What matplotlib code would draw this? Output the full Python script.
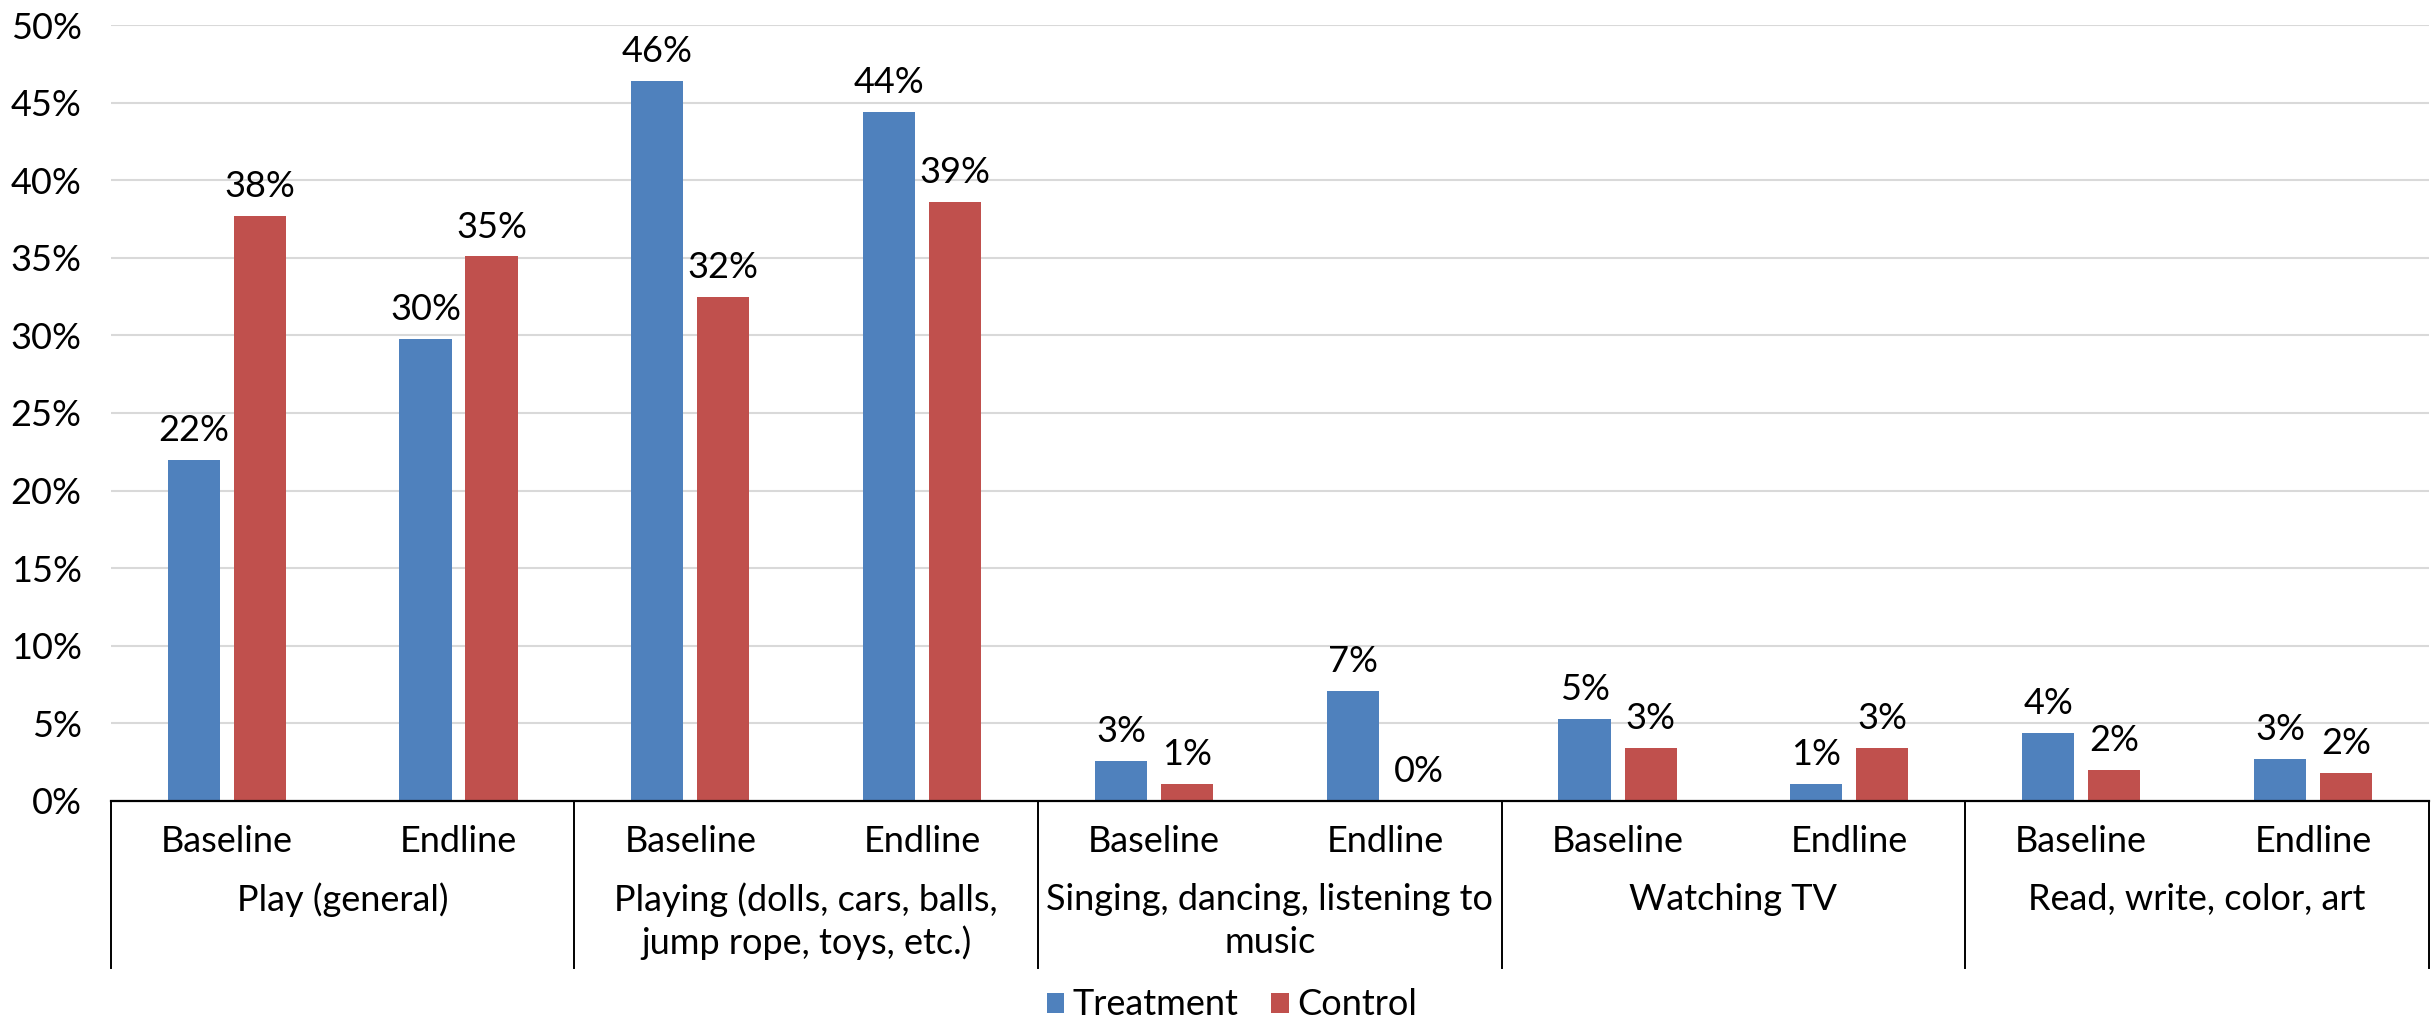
import matplotlib
matplotlib.use("Agg")
import matplotlib.pyplot as plt
from matplotlib.patches import Patch
from matplotlib.ticker import PercentFormatter

plt.rcParams['font.family'] = ['Lato', 'DejaVu Sans']

# Share of children by activity, survey round and study arm
categories = ["Play (general)",
              "Playing (dolls, cars, balls,\njump rope, toys, etc.)",
              "Singing, dancing, listening to\nmusic",
              "Watching TV",
              "Read, write, color, art"]
rounds = ["Baseline", "Endline"]
series_names = ["Treatment", "Control"]
treatment = [0.220, 0.298, 0.464, 0.444, 0.026, 0.071, 0.053, 0.011, 0.044, 0.027]
control = [0.377, 0.351, 0.325, 0.386, 0.011, 0.000, 0.034, 0.034, 0.020, 0.018]

BLUE = "#4F81BD"
RED = "#C0504D"
FS = 26

fig = plt.figure(figsize=(24.35, 10.21), dpi=100)
ax = fig.add_axes([0.0455, 0.2155, 0.952, 0.760])

n = len(treatment)
x = list(range(n))
width = 0.225
off = 0.1425

bars_t = ax.bar([i - off for i in x], treatment, width, color=BLUE, zorder=3)
bars_c = ax.bar([i + off for i in x], control, width, color=RED, zorder=3)

for bars, vals in ((bars_t, treatment), (bars_c, control)):
    for b, v in zip(bars, vals):
        ax.annotate(f"{v:.0%}", (b.get_x() + b.get_width() / 2, v),
                    xytext=(0, 13.5), textcoords="offset points",
                    ha="center", va="baseline", fontsize=FS)

ax.set_xlim(-0.5, n - 0.5)
ax.set_ylim(0, 0.5)
ax.set_yticks([i * 0.05 for i in range(11)])
ax.yaxis.set_major_formatter(PercentFormatter(xmax=1, decimals=0))
ax.tick_params(axis="y", length=0, pad=21, labelsize=FS)
ax.grid(axis="y", color="#d9d9d9", linewidth=1.5, zorder=0)
ax.set_axisbelow(True)

for s in ("top", "right", "left"):
    ax.spines[s].set_visible(False)
ax.spines["bottom"].set_linewidth(1.6)
ax.spines["bottom"].set_color("black")
ax.spines["bottom"].set_zorder(4)

# Inner level: survey rounds
ax.set_xticks(x)
ax.set_xticklabels([rounds[i % 2] for i in x])
ax.tick_params(axis="x", length=0, pad=17, labelsize=FS)

# Outer level: activity groups with separators
trans = ax.get_xaxis_transform()
for g, name in enumerate(categories):
    cx = 2 * g + 0.5
    for k, line in enumerate(name.split("\n")):
        ax.text(cx, -0.1276 - 0.0554 * k, line, transform=trans,
                ha="center", va="center", fontsize=FS)
for g in range(len(categories) + 1):
    xs = 2 * g - 0.5
    ax.plot([xs, xs], [0, -0.2152], transform=trans, color="black",
            linewidth=1.4, clip_on=False, zorder=4)

handles = [Patch(facecolor=BLUE), Patch(facecolor=RED)]
fig.legend(handles, series_names, loc="center", bbox_to_anchor=(0.506, 0.0157),
           ncol=2, frameon=False, fontsize=FS, handlelength=0.48,
           handleheight=0.48, handletextpad=0.25, columnspacing=0.9,
           borderpad=0)

fig.savefig("out.png", dpi=100)
